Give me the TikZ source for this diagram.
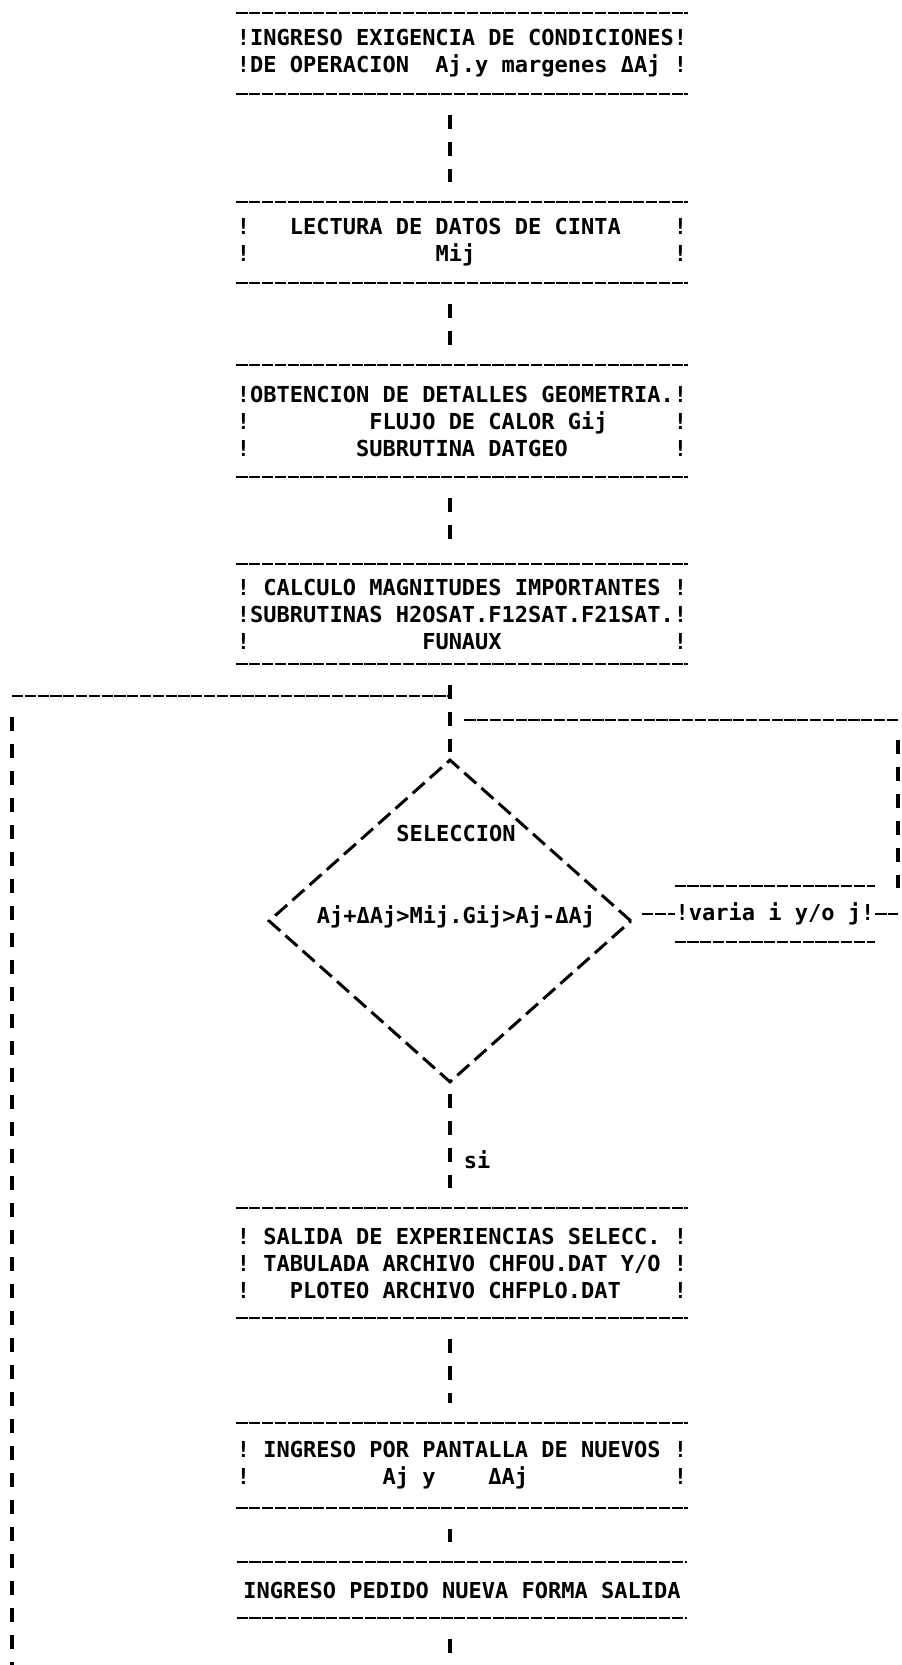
\documentclass[tikz,border=0pt]{standalone}
\usepackage{fontspec}
\newfontfamily\dotfont{DejaVu Sans Mono}
\usetikzlibrary{shapes.geometric}
\begin{document}
\begin{tikzpicture}[x=0.5pt,y=-0.5pt,
  txt/.style={font=\dotfont\bfseries\fontsize{11}{13.5}\selectfont, inner sep=0pt, text=black},
  boxn/.style={txt, align=center, minimum width=225pt},
  hline/.style={line width=1pt, dash pattern=on 5.6pt off 0.8pt},
  vconn/.style={line width=1.6pt, dash pattern=on 7pt off 6.5pt, shorten <=10.5pt, shorten >=10pt},
  dia/.style={diamond, draw, line width=1.5pt, dash pattern=on 8pt off 3.5pt, inner sep=0pt, minimum width=181.5pt, minimum height=161.5pt}]
\useasboundingbox (0,0) rectangle (901,1665);
\coordinate (spine) at (450,0);

% process boxes
\node[boxn, minimum height=40.5pt] (b1) at (462,53.5)
  {!INGRESO EXIGENCIA DE CONDICIONES!\\!DE OPERACION~~Aj.y margenes ΔAj~!};
\node[boxn, minimum height=40.5pt] (b2) at (462,242.5)
  {!~~~LECTURA DE DATOS DE CINTA~~~~!\\!~~~~~~~~~~~~~~Mij~~~~~~~~~~~~~~~!};
\node[boxn, minimum height=56pt] (b3) at (462,421)
  {!OBTENCION DE DETALLES GEOMETRIA.!\\!~~~~~~~~~FLUJO DE CALOR Gij~~~~~!\\!~~~~~~~~SUBRUTINA DATGEO~~~~~~~~!};
\node[boxn, minimum height=50pt] (b4) at (462,614)
  {!~CALCULO MAGNITUDES IMPORTANTES~!\\!SUBRUTINAS H2OSAT.F12SAT.F21SAT.!\\!~~~~~~~~~~~~~FUNAUX~~~~~~~~~~~~~!};
\node[dia] (dia) at (450,921) {};
\node[txt] (sel) at (456,833) {SELECCION};
\node[txt] (cond) at (456,917) {Aj+ΔAj>Mij.Gij>Aj-ΔAj};
\node[txt, minimum width=100pt, minimum height=27.5pt] (varia) at (775,914) {!varia i y/o j!};
\node[txt] (si) at (477,1160) {si};
\node[boxn, minimum height=55pt] (b5) at (462,1263)
  {!~SALIDA DE EXPERIENCIAS SELECC.~!\\!~TABULADA ARCHIVO CHFOU.DAT Y/O~!\\!~~~PLOTEO ARCHIVO CHFPLO.DAT~~~~!};
\node[boxn, minimum height=42.5pt] (b6) at (462,1465.5)
  {!~INGRESO POR PANTALLA DE NUEVOS~!\\!~~~~~~~~~~Aj~y~~~~ΔAj~~~~~~~~~~~!};
\node[boxn, minimum height=28pt] (b7) at (462,1590)
  {INGRESO PEDIDO NUEVA FORMA SALIDA};

\foreach \b in {b1,b2,b3,b4,b5,b6,b7,varia}{
  \draw[hline] (\b.north west) -- (\b.north east) (\b.south west) -- (\b.south east);}

% loop coordinates
\coordinate (exit) at (450,1665);
\coordinate (lbot) at (12,1665);
\coordinate (lcorner) at (12,696);
\coordinate (join) at (450,696);
\coordinate (rhigh) at (898,720);
\coordinate (rejoin) at (463,720);

% main flow
\draw[vconn] (b1.south -| spine) -- (b2.north -| spine);
\draw[vconn] (b2.south -| spine) -- (b3.north -| spine);
\draw[vconn] (b3.south -| spine) -- (b4.north -| spine);
\draw[vconn, shorten >=3pt] (b4.south -| spine) -- (dia.north);
\draw[vconn, shorten <=5pt] (dia.south) -- (b5.north -| spine);
\draw[vconn] (b5.south -| spine) -- (b6.north -| spine);
\draw[vconn] (b6.south -| spine) -- (b7.north -| spine);
\draw[vconn, shorten >=0pt] (b7.south -| spine) -- (exit);

% return loop on the left
\draw[vconn, shorten >=0pt] (lcorner) -- (lbot);
\draw[hline] (lcorner) -- (join);

% "no" branch on the right
\draw[hline, shorten <=4.5pt] (varia.west -| dia.east) -- (varia.west);
\draw[hline] (varia.east) -- (varia.east -| rhigh);
\draw[vconn, shorten <=10pt, shorten >=13pt] (rhigh) -- (varia.east -| rhigh);
\draw[hline] (rhigh) -- (rejoin);
\end{tikzpicture}
\end{document}
